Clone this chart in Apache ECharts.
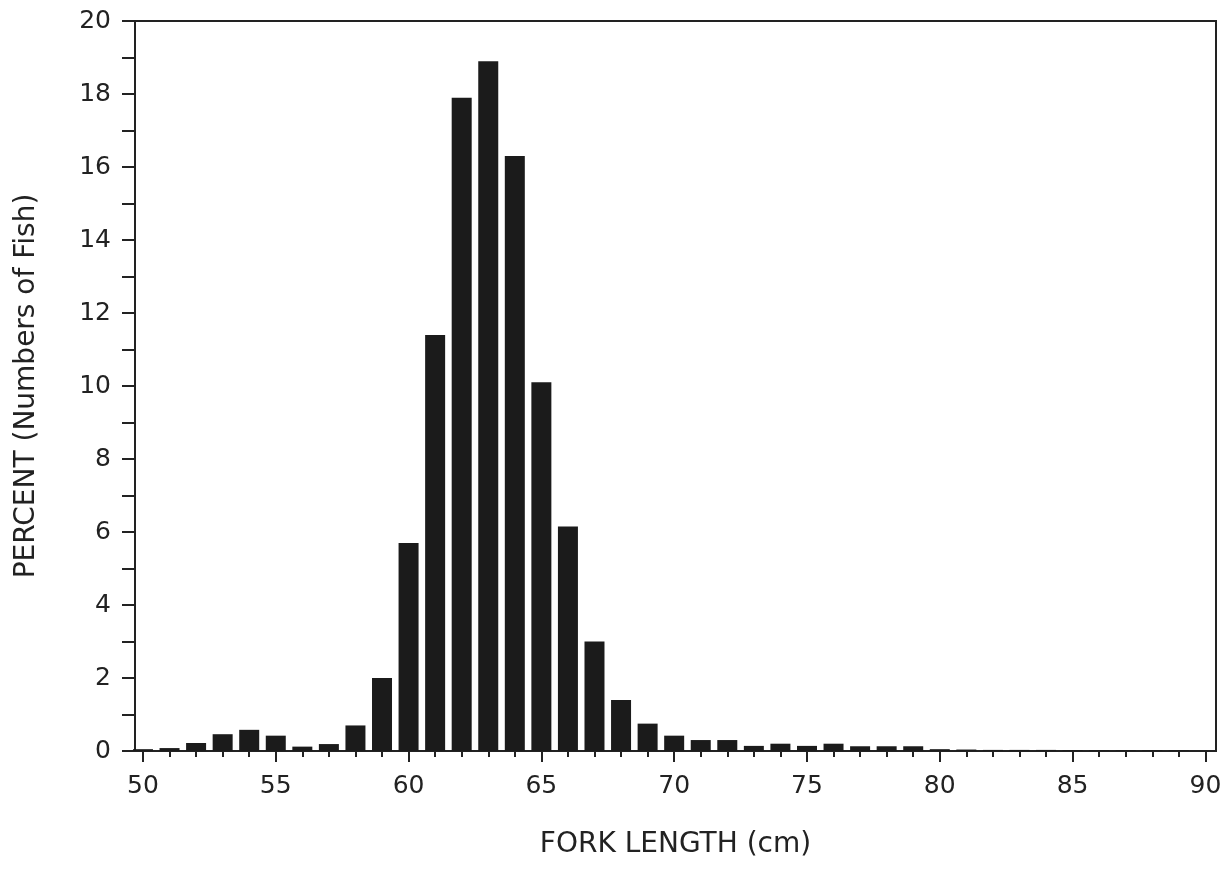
<!DOCTYPE html>
<html>
<head>
<meta charset="utf-8">
<script src="https://cdn.jsdelivr.net/npm/echarts@6/dist/echarts.min.js"></script>
<style>
html,body{margin:0;padding:0;background:#fff;}
#c{width:1230px;height:891px;}
</style>
</head>
<body>
<div id="c"></div>
<script>
// Fork length classes (cm)
const lengths = [50,51,52,53,54,55,56,57,58,59,60,61,62,63,64,65,66,67,68,69,70,71,72,73,74,75,76,77,78,79,80,81,82,83,84,85,86,87,88,89];
// Percent (numbers of fish)
const percents = [0.05,0.08,0.22,0.46,0.58,0.42,0.12,0.19,0.70,2.0,5.7,11.4,17.9,18.9,16.3,10.1,6.15,3.0,1.4,0.75,0.42,0.3,0.3,0.14,0.2,0.14,0.2,0.13,0.13,0.13,0.05,0.04,0.03,0.03,0.03,0.02,0.02,0.02,0.02,0.02];
// Axis tick labels
const xMajorTicks = [50,55,60,65,70,75,80,85,90];
const xMinorTicks = [51,52,53,54,56,57,58,59,61,62,63,64,66,67,68,69,71,72,73,74,76,77,78,79,81,82,83,84,86,87,88,89];
const yMin = 0, yMax = 20, yStep = 2;
const xMin = 49.7, xMax = 90.4;

const ink = '#222';
const font = 'DejaVu Sans';

const chart = echarts.init(document.getElementById('c'));
chart.setOption({
  animation: false,
  backgroundColor: '#fff',
  grid: {left: 135, right: 14, top: 21, bottom: 140, show: true, borderColor: ink, borderWidth: 2, backgroundColor: 'transparent'},
  xAxis: [
    {
      type: 'value', min: xMin, max: xMax, position: 'bottom',
      name: 'FORK LENGTH (cm)', nameLocation: 'middle', nameGap: 80,
      nameTextStyle: {fontFamily: font, fontSize: 28, color: ink},
      axisLine: {show: true, lineStyle: {color: ink, width: 2}},
      axisTick: {show: true, customValues: xMajorTicks, length: 11, lineStyle: {color: ink, width: 2}},
      axisLabel: {show: true, customValues: xMajorTicks, margin: 23, fontFamily: font, fontSize: 25, color: ink},
      splitLine: {show: false}
    },
    {
      type: 'value', min: xMin, max: xMax, position: 'bottom',
      axisLine: {show: false},
      axisTick: {show: true, customValues: xMinorTicks, length: 6, lineStyle: {color: ink, width: 2}},
      axisLabel: {show: false},
      splitLine: {show: false}
    }
  ],
  yAxis: {
    type: 'value', min: yMin, max: yMax, interval: yStep,
    name: 'PERCENT (Numbers of Fish)', nameLocation: 'middle', nameGap: 94,
    nameTextStyle: {fontFamily: font, fontSize: 28, color: ink},
    axisLine: {show: true, lineStyle: {color: ink, width: 2}},
    axisTick: {show: true, length: 13, lineStyle: {color: ink, width: 2}},
    minorTick: {show: true, splitNumber: 2, length: 13, lineStyle: {color: ink, width: 2}},
    axisLabel: {margin: 24, fontFamily: font, fontSize: 25, color: ink},
    splitLine: {show: false},
    minorSplitLine: {show: false}
  },
  series: [{
    type: 'bar',
    xAxisIndex: 0,
    barWidth: 20,
    itemStyle: {color: '#1b1b1b'},
    data: lengths.map((l, i) => [l, percents[i]])
  }]
});
</script>
</body>
</html>
